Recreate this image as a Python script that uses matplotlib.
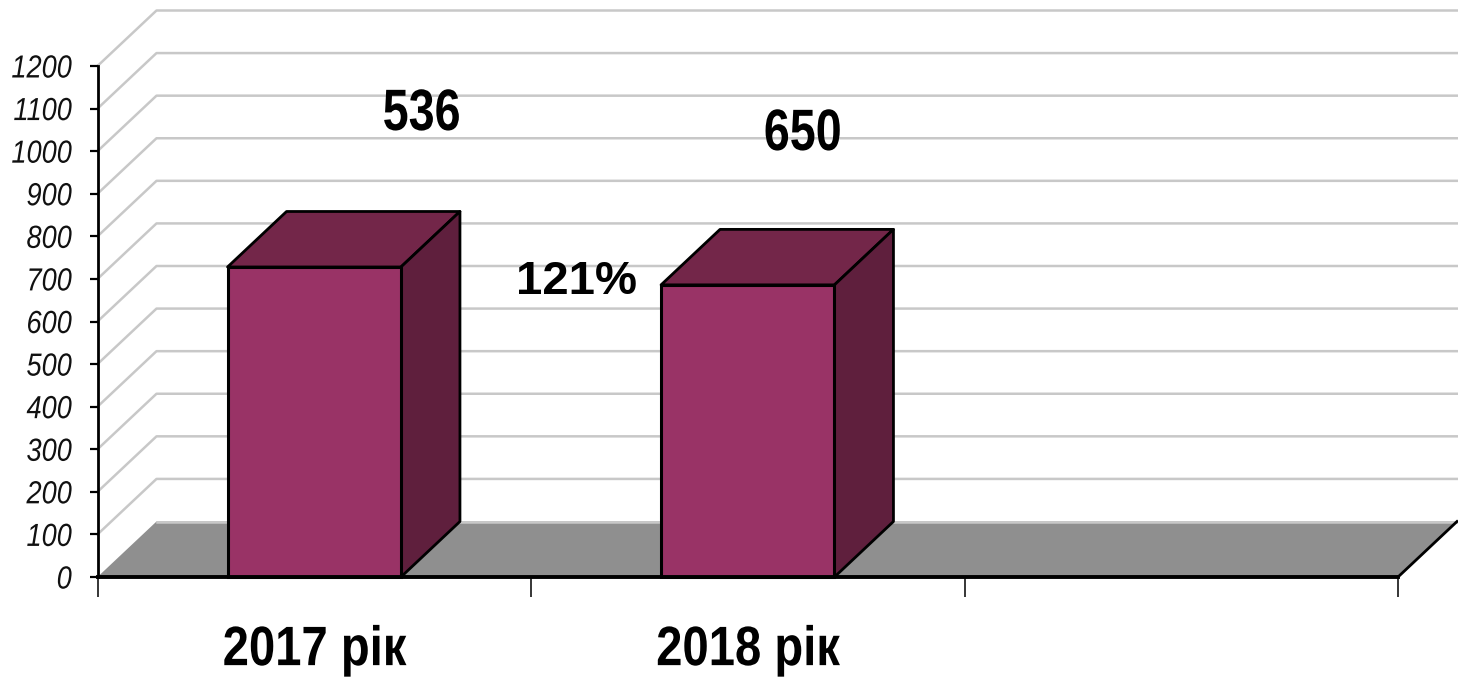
import numpy as np
import matplotlib.pyplot as plt
from matplotlib.patches import Polygon
from matplotlib.patheffects import AbstractPathEffect
from matplotlib.transforms import Affine2D

# values
categories = ['2017 рік', '2018 рік']
bar_heights = [728, 686]
value_labels = ['536', '650']
ratio_label = '121%'
y_ticks = list(range(0, 1300, 100))

W, H = 1458, 678
L, R, T, B = 97.5, 1398, 66, 577

# depth of the fake 3d box in data units
dx = 59 / ((R - L) / 3)
dy = 55.5 / ((B - T) / 1200)
bar_w = 0.4
xmax = 3
plt.rcParams['font.family'] = 'Liberation Sans'


class Squeeze(AbstractPathEffect):
    # the reference text is horizontally squashed, no narrow font installed
    def __init__(self, sx, anchor='center'):
        super().__init__()
        self.sx = sx
        self.anchor = anchor

    def draw_path(self, renderer, gc, tpath, affine, rgbFace=None):
        ext = tpath.get_extents()
        x0 = ext.x1 if self.anchor == 'right' else (ext.x0 + ext.x1) / 2
        squeeze = Affine2D().translate(-x0, 0).scale(self.sx, 1).translate(x0, 0)
        renderer.draw_path(gc, tpath, squeeze + affine, rgbFace)


fig = plt.figure(figsize=(W / 100, H / 100), dpi=100)
ax = fig.add_axes([L / W, 1 - B / H, (R - L) / W, (B - T) / H])
ax.set_xlim(0, xmax)
ax.set_ylim(0, 1200)
ax.patch.set_alpha(0)

#Back wall grid
for v in y_ticks[1:]:
    ax.plot([0, dx, xmax + dx], [v, v + dy, v + dy], color='#c8c8c8', lw=1.8, clip_on=False, zorder=1)
ax.plot([dx, xmax + dx], [dy, dy], color='#c8c8c8', lw=1.8, clip_on=False, zorder=1.2)

#Floor
ax.add_patch(Polygon([[0, 0], [dx, dy], [xmax + dx, dy], [xmax, 0]], closed=True, fc='#8f8f8f', ec='none', clip_on=False, zorder=1.1))
ax.plot([xmax, xmax + dx], [0, dy], color='black', lw=2, clip_on=False, zorder=1.3)

#Bars
xs = np.arange(len(categories)) + 0.5
ax.bar(xs, bar_heights, width=bar_w, color='#993366', edgecolor='black', linewidth=2.2, zorder=3, clip_on=False)
for x, h in zip(xs, bar_heights):
    x0, x1 = x - bar_w / 2, x + bar_w / 2
    ax.add_patch(Polygon([[x0, h], [x0 + dx, h + dy], [x1 + dx, h + dy], [x1, h]], closed=True, fc='#732649', ec='black', lw=2, joinstyle='round', clip_on=False, zorder=2.5))
    ax.add_patch(Polygon([[x1, 0], [x1 + dx, dy], [x1 + dx, h + dy], [x1, h]], closed=True, fc='#5f1f3d', ec='black', lw=2, joinstyle='round', clip_on=False, zorder=2.5))

#Axes
for s in ['top', 'right']:
    ax.spines[s].set_visible(False)
ax.spines['left'].set_linewidth(2)
ax.spines['bottom'].set_linewidth(2.8)
ax.spines['bottom'].set_zorder(4)
ax.set_yticks(y_ticks)
ax.set_yticklabels([str(v) for v in y_ticks], style='italic', fontsize=23, color='#111111')
ax.tick_params(axis='y', length=5.5, width=1.6, pad=13)
for lab in ax.get_yticklabels():
    lab.set_path_effects([Squeeze(0.85, 'right')])
ax.set_xticks(range(xmax + 1))
ax.set_xticklabels([])
ax.tick_params(axis='x', length=14.5, width=1.1)
ax.set_xticks(xs, minor=True)
ax.set_xticklabels(categories, minor=True, weight='bold', fontsize=40)
ax.tick_params(axis='x', which='minor', length=0, pad=34.5)
for lab in ax.get_xticklabels(minor=True):
    lab.set_path_effects([Squeeze(0.85)])

#Text labels
ax.text(0.748, 1085, value_labels[0], weight='bold', fontsize=42, ha='center', va='center', zorder=5, path_effects=[Squeeze(0.8)])
ax.text(1.627, 1038, value_labels[1], weight='bold', fontsize=42, ha='center', va='center', zorder=5, path_effects=[Squeeze(0.8)])
ax.text(1.105, 693, ratio_label, weight='bold', fontsize=34, ha='center', va='center', zorder=5)

fig.savefig('out.png', dpi=100)
